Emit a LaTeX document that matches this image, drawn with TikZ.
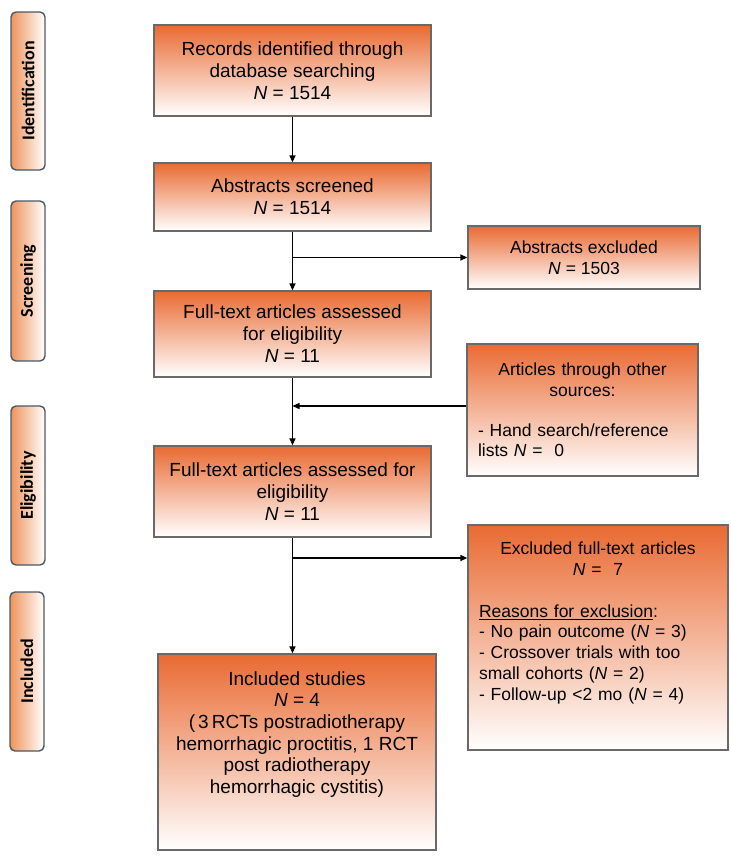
\documentclass[tikz,border=0pt]{standalone}
\usepackage{fontspec}
\setmainfont{Liberation Sans}
\newfontfamily\tabfont{Carlito}
\usetikzlibrary{arrows.meta,calc}
\definecolor{boxor}{RGB}{233,106,50}
\definecolor{tabor}{RGB}{238,148,92}
\definecolor{boxline}{RGB}{105,105,105}
\definecolor{tabline}{RGB}{75,88,102}
\begin{document}
\begin{tikzpicture}[x=1pt,y=-1pt,
  mainbox/.style={draw=boxline, line width=1.3pt, top color=boxor, bottom color=white,
    minimum width=277pt, inner sep=0pt, align=center, font=\fontsize{19}{22}\selectfont},
  sidefont/.style={font=\fontsize{17.5}{20.8}\selectfont},
  tabbox/.style={draw=tabline, line width=1.4pt, rounded corners=5pt, left color=tabor,
    right color=white, minimum width=34pt, inner sep=0pt,
    font=\tabfont\bfseries\fontsize{18}{20}\selectfont},
  arr/.style={line width=1.3pt, -{Triangle[length=7pt,width=6pt]}}]
\useasboundingbox (0,0) rectangle (731,857);

% phase tabs
\node[tabbox, minimum height=158pt] (t1) at (28,91) {\rotatebox{90}{Identification}};
\node[tabbox, minimum height=160pt] (t2) at (28,281) {\rotatebox{90}{Screening}};
\node[tabbox, minimum height=159pt] (t3) at (28,485.5) {\rotatebox{90}{Eligibility}};
\node[tabbox, minimum height=159pt] (t4) at (27,671.5) {\rotatebox{90}{Included}};

% main column
\node[mainbox, minimum height=91pt] (rec) at (292.5,70.5)
  {Records identified through\\database searching\\\textit{N} = 1514};
\node[mainbox, minimum height=68pt] (abs) at (292.5,197)
  {Abstracts screened\\\textit{N} = 1514};
\node[mainbox, minimum height=86pt] (ft1) at (292.5,334)
  {Full-text articles assessed\\for eligibility\\\textit{N} = 11};
\node[mainbox, minimum height=91pt] (ft2) at (292.5,491.5)
  {Full-text articles assessed for\\eligibility\\\textit{N} = 11};
\node[mainbox, minimum width=278pt, minimum height=196pt] (inc) at (297,752) {};
\node[anchor=north, inner sep=0pt, align=center, font=\fontsize{19}{21.6}\selectfont] (inctxt)
  at ([yshift=-18pt]inc.north)
  {Included studies\\\textit{N} =~4\\(\,3\,RCTs postradiotherapy\\hemorrhagic proctitis, 1 RCT\\post radiotherapy\\hemorrhagic cystitis)};

% side boxes
\node[mainbox, sidefont, minimum width=232pt, minimum height=63pt] (absx) at (584,257.5)
  {Abstracts excluded\\\textit{N} = 1503};
\node[mainbox, sidefont, minimum width=231pt, minimum height=132pt, text width=209pt, align=left] (oth)
  at (582.5,410)
  {{\centering Articles through other\\sources:\par}\vspace{19pt}- Hand search/reference\\lists \textit{N} =~~0};
\node[mainbox, minimum width=260pt, minimum height=225pt] (ftx) at (598,637.5) {};
\node[anchor=north, inner sep=0pt, text width=238pt, align=left, sidefont] (ftxt)
  at ([yshift=-17.5pt]ftx.north)
  {{\centering Excluded full-text articles\\\textit{N} =~~7\par}\vspace{20.8pt}\underline{Reasons for exclusion}:\\- No pain outcome (\textit{N} = 3)\\- Crossover trials with too\\small cohorts (\textit{N} = 2)\\- Follow-up <2 mo (\textit{N} = 4)};

% connectors
\draw[arr] (rec.south) -- (abs.north);
\draw[arr] (abs.south) -- (ft1.north);
\draw[arr] (abs.south |- absx.west) -- (absx.west);
\draw[arr] (ft1.south) -- (ft2.north);
\draw[arr] ([yshift=4pt]oth.west) -- ([yshift=4pt]oth.west -| ft1.south);
\draw[arr] (ft2.south) -- (ft2.south |- inc.north);
\coordinate (j3) at (292.5,558);
\draw[arr] (j3) -- (j3 -| ftx.west);
\end{tikzpicture}
\end{document}
